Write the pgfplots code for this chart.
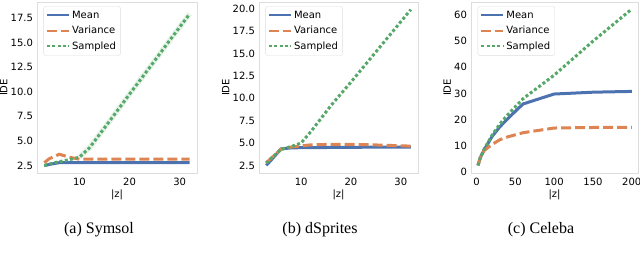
\documentclass[border=0pt]{standalone}
\usepackage{fontspec}
\setmainfont{DejaVu Sans}
\newfontfamily\capfont{Liberation Serif}
\usepackage{pgfplots}
\pgfplotsset{compat=1.18}
\definecolor{cmean}{HTML}{4C72B0}
\definecolor{cvar}{HTML}{DD8452}
\definecolor{csamp}{HTML}{55A868}
\definecolor{spine}{HTML}{DDDDDD}
\pgfplotsset{
 panel/.style={
  scale only axis, height=171pt, anchor=south west,
  axis line style={draw=spine, line width=0.8pt},
  major tick length=0pt, minor tick num=0,
  tick style={draw=none},
  ticklabel style={font=\fontsize{10}{11}\selectfont},
  xticklabel style={yshift=-1.5pt},
  yticklabel style={xshift=-0.5pt},
  /pgf/number format/assume math mode=true,
  label style={font=\fontsize{10}{11}\selectfont},
  xlabel={|z|}, ylabel={IDE},
  xlabel style={yshift=3pt},
  ylabel style={yshift=-3.5pt},
  legend style={at={(0.04,0.975)}, anchor=north west, draw=spine, rounded corners=2pt,
    font=\fontsize{10}{11}\selectfont, row sep=2.5pt, inner sep=2.5pt},
  legend cell align=left,
  every axis plot/.append style={line width=3pt},
 },
 meanst/.style={cmean, solid},
 varst/.style={cvar, dash pattern=on 10pt off 4pt},
 sampst/.style={csamp, dash pattern=on 3pt off 2.3pt},
 legend image code/.code={\draw[#1, line width=2pt] (0pt,0pt) -- (22pt,0pt);},
}
\begin{document}
\begin{tikzpicture}
\useasboundingbox (0,0) rectangle (640pt,261pt);
% (a) Symsol
\begin{axis}[panel, at={(37pt,88pt)}, width=160pt,
  xmin=1.55, xmax=33.45, ymin=1.75, ymax=19.1,
  xtick={10,20,30}, ytick={2.5,5,...,17.5},
  yticklabel style={/pgf/number format/.cd, fixed, fixed zerofill, precision=1}]
\addplot[csamp!20, line width=5.5pt, opacity=0.7, forget plot] coordinates {
(10,3.35) (12,4.3) (16,7.0) (20,9.75) (24,12.45) (28,15.2) (32,17.9)};
\addplot[meanst] coordinates {
(3,2.5) (4,2.62) (6,2.8) (8,2.8) (10,2.8) (16,2.8) (20,2.8) (32,2.8)};
\addplot[varst] coordinates {
(3,2.8) (4,3.2) (6,3.65) (8,3.35) (10,3.15) (16,3.15) (20,3.15) (32,3.15)};
\addplot[sampst] coordinates {
(3,2.5) (4,2.65) (6,2.9) (8,3.1) (10,3.35) (12,4.3) (16,7.0) (20,9.75) (24,12.45) (28,15.2) (32,17.9)};
\legend{Mean,Variance,Sampled}
\end{axis}
% (b) dSprites
\begin{axis}[panel, at={(259pt,88pt)}, width=159pt,
  xmin=1.55, xmax=33.45, ymin=1.65, ymax=20.75,
  xtick={10,20,30}, ytick={2.5,5,...,20},
  yticklabel style={/pgf/number format/.cd, fixed, fixed zerofill, precision=1}]
\addplot[meanst] coordinates {
(3,2.5) (4,3.1) (6,4.35) (8,4.45) (10,4.48) (16,4.5) (20,4.52) (32,4.55)};
\addplot[varst] coordinates {
(3,2.8) (4,3.3) (6,4.3) (8,4.55) (12,4.8) (16,4.85) (20,4.85) (24,4.8) (32,4.65)};
\addplot[sampst] coordinates {
(3,2.75) (4,3.3) (6,4.3) (8,4.6) (10,5.0) (12,6.3) (16,9.2) (20,11.8) (24,14.5) (28,17.2) (32,19.9)};
\legend{Mean,Variance,Sampled}
\end{axis}
% (c) Celeba
\begin{axis}[panel, at={(471pt,88pt)}, width=167pt,
  xmin=-7, xmax=208, ymin=-0.4, ymax=65,
  xtick={0,50,...,200}, ytick={0,10,...,60}]
\addplot[meanst] coordinates {
(2,2.5) (5,5.5) (10,8.5) (20,13.5) (30,17.2) (40,20.3) (60,26) (100,29.8) (150,30.5) (200,30.8)};
\addplot[varst] coordinates {
(2,2.5) (5,5.5) (10,8.2) (20,10.5) (30,12.3) (40,13.4) (60,15) (100,16.8) (150,17) (200,17)};
\addplot[sampst] coordinates {
(2,2.5) (5,5.5) (10,8.8) (20,14) (30,18.3) (40,21.8) (60,28) (100,37) (150,50) (200,62.3)};
\legend{Mean,Variance,Sampled}
\end{axis}
\node[font=\capfont\fontsize{16}{18}\selectfont] at (99pt,31pt) {(a) Symsol};
\node[font=\capfont\fontsize{16}{18}\selectfont] at (320pt,31pt) {(b) dSprites};
\node[font=\capfont\fontsize{16}{18}\selectfont] at (541pt,31pt) {(c) Celeba};
\end{tikzpicture}
\end{document}
